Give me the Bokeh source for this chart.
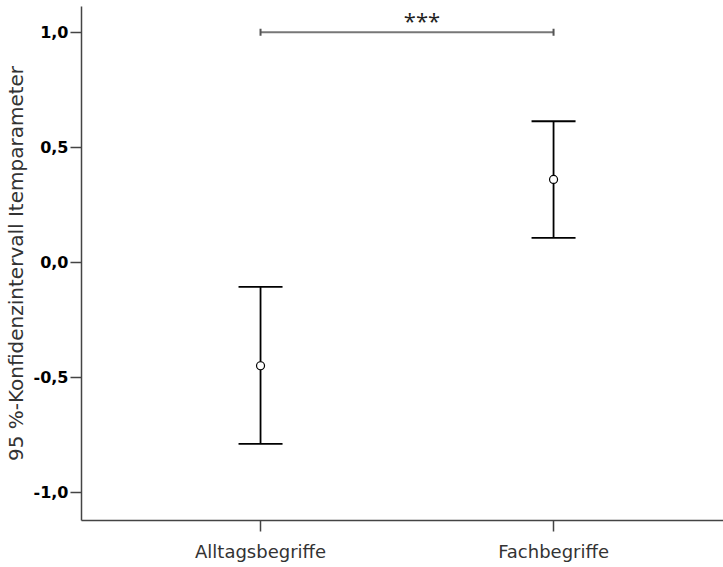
from bokeh.plotting import figure
from bokeh.models import FixedTicker, Whisker, TeeHead, ColumnDataSource, Range1d
from bokeh.core.properties import value
from bokeh.embed import file_html
from bokeh.resources import INLINE

categories = ["Alltagsbegriffe", "Fachbegriffe"]
cat_pos = [1, 2]
means = [-0.45, 0.36]
lower = [-0.79, 0.106]
upper = [-0.107, 0.613]
y_ticks = [-1.0, -0.5, 0.0, 0.5, 1.0]
y_tick_labels = ["-1,0", "-0,5", "0,0", "0,5", "1,0"]
sig_y = 1.0
sig_text = "***"

p = figure(width=723, height=567, output_backend="svg", toolbar_location=None,
           x_range=Range1d(0.389, 2.580), y_range=Range1d(-1.123, 1.112),
           min_border_left=81, min_border_right=0, min_border_top=6, min_border_bottom=47)
p.outline_line_color = None
p.grid.visible = False
p.background_fill_color = "white"
p.border_fill_color = "white"

src = ColumnDataSource(dict(x=cat_pos, m=means, lo=lower, hi=upper))
w = Whisker(source=src, base="x", lower="lo", upper="hi", dimension="height",
            line_color="black", line_width=1.8,
            upper_head=TeeHead(size=44, line_color="black", line_width=1.8),
            lower_head=TeeHead(size=44, line_color="black", line_width=1.8))
p.add_layout(w)
p.scatter("x", "m", source=src, size=8, marker="circle", fill_color="white",
          line_color="black", line_width=1.2)

sig_src = ColumnDataSource(dict(y=[sig_y], l=[cat_pos[0]], u=[cat_pos[1]]))
sw = Whisker(source=sig_src, base="y", lower="l", upper="u", dimension="width",
             line_color="#777777", line_width=2,
             upper_head=TeeHead(size=7, line_color="#555555", line_width=2),
             lower_head=TeeHead(size=7, line_color="#555555", line_width=2))
p.add_layout(sw)
p.text(x=[(cat_pos[0] + cat_pos[1]) / 2], y=[sig_y], text=[sig_text],
       x_offset=15, y_offset=-12, text_align="center", text_baseline="alphabetic",
       text_font=value("Open Sans"), text_font_size="22px", text_color="#222222")

# axes
p.xaxis.ticker = FixedTicker(ticks=cat_pos)
p.xaxis.major_label_overrides = {c: l for c, l in zip(cat_pos, categories)}
p.yaxis.ticker = FixedTicker(ticks=y_ticks)
p.yaxis.major_label_overrides = {t: l for t, l in zip(y_ticks, y_tick_labels)}
for ax in (p.xaxis, p.yaxis):
    ax.axis_line_color = "#444444"
    ax.axis_line_width = 1.5
    ax.major_tick_line_color = "#444444"
    ax.major_tick_line_width = 1.5
    ax.major_tick_out = 11
    ax.major_tick_in = 0
    ax.minor_tick_line_color = None

p.xaxis.major_label_text_font = "DejaVu Sans"
p.xaxis.major_label_text_font_size = "18px"
p.xaxis.major_label_text_color = "#333333"
p.xaxis.major_label_standoff = 9

p.yaxis.major_label_text_font = "DejaVu Sans"
p.yaxis.major_label_text_font_style = "bold"
p.yaxis.major_label_text_font_size = "16px"
p.yaxis.major_label_text_color = "black"
p.yaxis.major_label_standoff = 2
p.yaxis.axis_label = "95 %-Konfidenzintervall Itemparameter"
p.yaxis.axis_label_text_font = "DejaVu Sans"
p.yaxis.axis_label_text_font_style = "normal"
p.yaxis.axis_label_text_font_size = "20px"
p.yaxis.axis_label_text_color = "#333333"
p.yaxis.axis_label_standoff = 3

open("out.html", "w").write(file_html(p, INLINE))
